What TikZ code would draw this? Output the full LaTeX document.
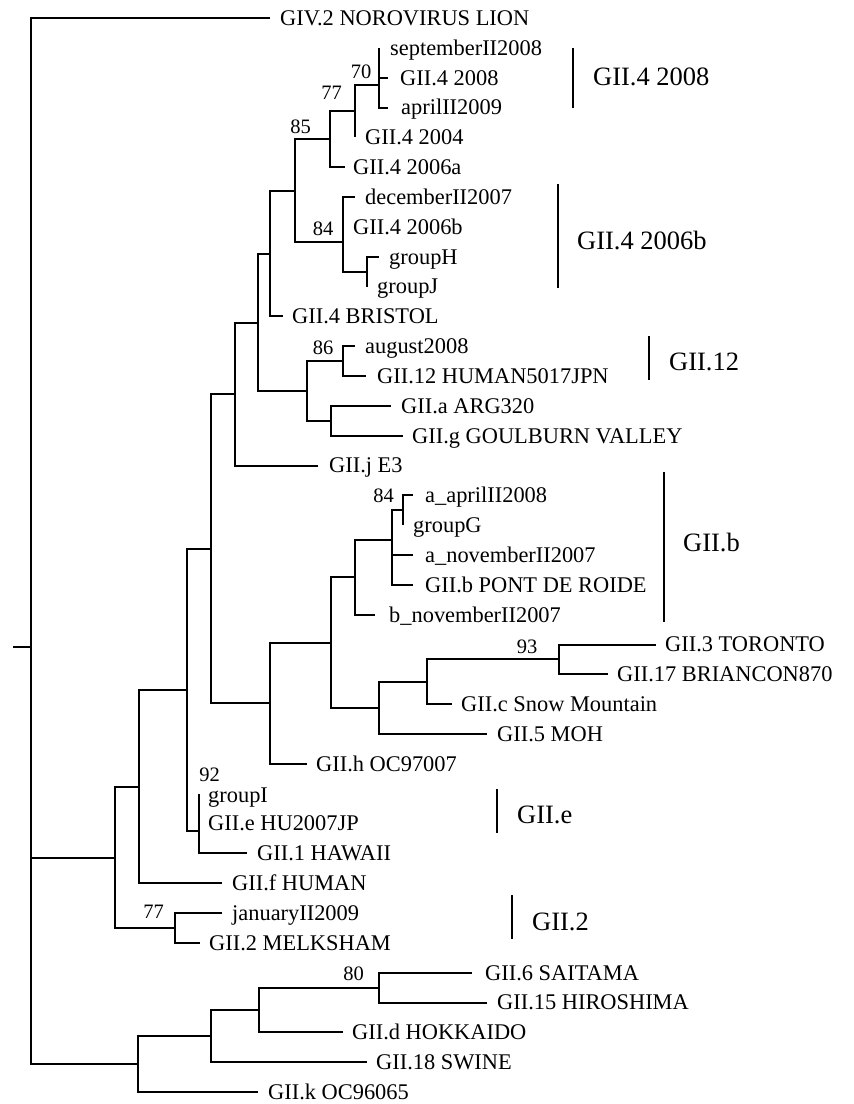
\documentclass[tikz,border=0pt]{standalone}
\usepackage{fontspec}
\setmainfont{Liberation Serif}
\begin{document}
\begin{tikzpicture}[x=1pt,y=-1pt,
  br/.style={line width=2pt},
  bar/.style={line width=2.4pt},
  leaf/.style={anchor=base west, inner sep=0pt, yshift=-7.4pt, font=\fontsize{22.4}{26}\selectfont},
  boot/.style={anchor=center, inner sep=0pt, font=\fontsize{20.5}{24}\selectfont},
  clade/.style={anchor=base west, inner sep=0pt, yshift=-8.8pt, font=\fontsize{26.5}{30}\selectfont}]
\useasboundingbox (0,0) rectangle (854,1104);
\fill[white] (0,0) rectangle (854,1104);

% ---------- internal nodes ----------
\coordinate (rs)   at (13,647);
\coordinate (root) at (31,647);
\coordinate (A)    at (115,857.5);
\coordinate (B)    at (139,787);
\coordinate (C)    at (187,690);
\coordinate (D)    at (211,548.5);
\coordinate (E)    at (235,394);
\coordinate (F)    at (258,322.5);
\coordinate (G)    at (270,253.5);
\coordinate (I)    at (295,190.5);
\coordinate (J)    at (330,139.2);
\coordinate (K)    at (355,111.2);
\coordinate (L)    at (379,85);
\coordinate (Na)   at (343,241.7);
\coordinate (HJ)   at (367,271.6);
\coordinate (H)    at (307,391);
\coordinate (N86)  at (343,361);
\coordinate (AG)   at (331,420.7);
\coordinate (M)    at (270,703.3);
\coordinate (N)    at (331,642.8);
\coordinate (P)    at (355,577.3);
\coordinate (Q)    at (392,540);
\coordinate (Nb)   at (403,510.2);
\coordinate (RR)   at (379,708);
\coordinate (S)    at (427,681.6);
\coordinate (N93)  at (559,659.4);
\coordinate (N92)  at (199,831);
\coordinate (N77)  at (175,928);
\coordinate (Z)    at (138,1064);
\coordinate (Z1)   at (211,1036);
\coordinate (Z2)   at (259,1010);
\coordinate (N80)  at (379,987.6);

% ---------- tips ----------
\coordinate (tLion) at (270,18);
\coordinate (tSep)  at (379,47.8);
\coordinate (t408)  at (388,77.7);
\coordinate (tApr)  at (388,107.5);
\coordinate (t404)  at (355,137.3);
\coordinate (t406a) at (345,167.2);
\coordinate (tDec)  at (355,197);
\coordinate (t406b) at (343,226.8);
\coordinate (tGH)   at (379,256.7);
\coordinate (tGJ)   at (367,286.5);
\coordinate (tBri)  at (283,316.3);
\coordinate (tAug)  at (355,346.2);
\coordinate (t12)   at (366,376);
\coordinate (tArg)  at (391,405.8);
\coordinate (tGou)  at (403,435.7);
\coordinate (tE3)   at (318,465.5);
\coordinate (tAap)  at (413,495.3);
\coordinate (tGG)   at (403,525.2);
\coordinate (tAnov) at (413,555);
\coordinate (tPont) at (413,584.8);
\coordinate (tBnov) at (375,614.7);
\coordinate (tTor)  at (656,644.5);
\coordinate (tBria) at (608,674.3);
\coordinate (tSnow) at (452,704.2);
\coordinate (tMoh)  at (487,734);
\coordinate (tOC97) at (307,763.8);
\coordinate (tGI)   at (199,793.7);
\coordinate (tGIIe) at (199,823.5);
\coordinate (tHaw)  at (247,853.3);
\coordinate (tHum)  at (222,883.2);
\coordinate (tJan)  at (222,913);
\coordinate (tMel)  at (200,942.8);
\coordinate (tSai)  at (472,972.7);
\coordinate (tHir)  at (487,1002.5);
\coordinate (tHok)  at (343,1032.3);
\coordinate (tSwi)  at (367,1062.2);
\coordinate (tOC96) at (258,1092);

% ---------- branches ----------
\draw[br] (rs) -- (root);
\draw[br] (root) |- (tLion);
\draw[br] (root) |- (A);
\draw[br] (root) |- (Z);
\draw[br] (A) |- (B);
\draw[br] (A) |- (N77);
\draw[br] (B) |- (C);
\draw[br] (B) |- (tHum);
\draw[br] (C) |- (D);
\draw[br] (C) |- (N92);
\draw[br] (D) |- (E);
\draw[br] (D) |- (M);
\draw[br] (E) |- (F);
\draw[br] (E) |- (tE3);
\draw[br] (F) |- (G);
\draw[br] (F) |- (H);
\draw[br] (G) |- (I);
\draw[br] (G) |- (tBri);
\draw[br] (I) |- (J);
\draw[br] (I) |- (Na);
\draw[br] (J) |- (K);
\draw[br] (J) |- (t406a);
\draw[br] (K) |- (L);
\draw[br] (K) |- (t404);
\draw[br] (L) |- (tSep);
\draw[br] (L) |- (t408);
\draw[br] (L) |- (tApr);
\draw[br] (Na) |- (tDec);
\draw[br] (Na) |- (t406b);
\draw[br] (Na) |- (HJ);
\draw[br] (HJ) |- (tGH);
\draw[br] (HJ) |- (tGJ);
\draw[br] (H) |- (N86);
\draw[br] (H) |- (AG);
\draw[br] (N86) |- (tAug);
\draw[br] (N86) |- (t12);
\draw[br] (AG) |- (tArg);
\draw[br] (AG) |- (tGou);
\draw[br] (M) |- (N);
\draw[br] (M) |- (tOC97);
\draw[br] (N) |- (P);
\draw[br] (N) |- (RR);
\draw[br] (P) |- (Q);
\draw[br] (P) |- (tBnov);
\draw[br] (Q) |- (Nb);
\draw[br] (Q) |- (tAnov);
\draw[br] (Q) |- (tPont);
\draw[br] (Nb) |- (tAap);
\draw[br] (Nb) |- (tGG);
\draw[br] (RR) |- (S);
\draw[br] (RR) |- (tMoh);
\draw[br] (S) |- (N93);
\draw[br] (S) |- (tSnow);
\draw[br] (N93) |- (tTor);
\draw[br] (N93) |- (tBria);
\draw[br] (N92) |- (tGI);
\draw[br] (N92) |- (tGIIe);
\draw[br] (N92) |- (tHaw);
\draw[br] (N77) |- (tJan);
\draw[br] (N77) |- (tMel);
\draw[br] (Z) |- (Z1);
\draw[br] (Z) |- (tOC96);
\draw[br] (Z1) |- (Z2);
\draw[br] (Z1) |- (tSwi);
\draw[br] (Z2) |- (N80);
\draw[br] (Z2) |- (tHok);
\draw[br] (N80) |- (tSai);
\draw[br] (N80) |- (tHir);

% ---------- leaf labels ----------
\node[leaf] (lLion) at (280,18) {GIV.2 NOROVIRUS LION};
\node[leaf] (lSep)  at (390,47.8) {septemberII2008};
\node[leaf] (l408)  at (400,77.7) {GII.4 2008};
\node[leaf] (lApr)  at (401,107.5) {aprilII2009};
\node[leaf] (l404)  at (365,137.3) {GII.4 2004};
\node[leaf] (l406a) at (353,167.2) {GII.4 2006a};
\node[leaf] (lDec)  at (365,197) {decemberII2007};
\node[leaf] (l406b) at (353,226.8) {GII.4 2006b};
\node[leaf] (lGH)   at (389,256.7) {groupH};
\node[leaf] (lGJ)   at (377,286.5) {groupJ};
\node[leaf] (lBri)  at (292,316.3) {GII.4 BRISTOL};
\node[leaf] (lAug)  at (365,346.2) {august2008};
\node[leaf] (l12)   at (377,376) {GII.12 HUMAN5017JPN};
\node[leaf] (lArg)  at (401,405.8) {GII.a ARG320};
\node[leaf] (lGou)  at (412,435.7) {GII.g GOULBURN VALLEY};
\node[leaf] (lE3)   at (329,465.5) {GII.j E3};
\node[leaf] (lAap)  at (425,495.3) {a\_aprilII2008};
\node[leaf] (lGG)   at (413,525.2) {groupG};
\node[leaf] (lAnov) at (425,555) {a\_novemberII2007};
\node[leaf] (lPont) at (425,584.8) {GII.b PONT DE ROIDE};
\node[leaf] (lBnov) at (389,614.7) {b\_novemberII2007};
\node[leaf] (lTor)  at (665,644.5) {GII.3 TORONTO};
\node[leaf] (lBria) at (617,674.3) {GII.17 BRIANCON870};
\node[leaf] (lSnow) at (461,704.2) {GII.c Snow Mountain};
\node[leaf] (lMoh)  at (497,734) {GII.5 MOH};
\node[leaf] (lOC97) at (316,763.8) {GII.h OC97007};
\node[leaf] (lGI)   at (208,795) {groupI};
\node[leaf] (lGIIe) at (208,823.5) {GII.e HU2007JP};
\node[leaf] (lHaw)  at (257,853.3) {GII.1 HAWAII};
\node[leaf] (lHum)  at (232,883.2) {GII.f HUMAN};
\node[leaf] (lJan)  at (232,913) {januaryII2009};
\node[leaf] (lMel)  at (209,942.8) {GII.2 MELKSHAM};
\node[leaf] (lSai)  at (485,972.7) {GII.6 SAITAMA};
\node[leaf] (lHir)  at (497,1002.5) {GII.15 HIROSHIMA};
\node[leaf] (lHok)  at (352,1032.3) {GII.d HOKKAIDO};
\node[leaf] (lSwi)  at (376,1062.2) {GII.18 SWINE};
\node[leaf] (lOC96) at (268,1092) {GII.k OC96065};

% ---------- bootstrap values ----------
\node[boot] (b70)  at (361,72) {70};
\node[boot] (b77)  at (331.5,92.7) {77};
\node[boot] (b85)  at (300.5,126.7) {85};
\node[boot] (b84a) at (323,228.3) {84};
\node[boot] (b86)  at (323,348) {86};
\node[boot] (b84b) at (383.7,496) {84};
\node[boot] (b93)  at (527,646.7) {93};
\node[boot] (b92)  at (209.5,774.5) {92};
\node[boot] (b77b) at (153.7,912) {77};
\node[boot] (b80)  at (353.7,973.3) {80};

% ---------- clade bars ----------
\coordinate (c1t) at (573,48);  \coordinate (c1b) at (573,108);
\coordinate (c2t) at (558,184); \coordinate (c2b) at (558,288);
\coordinate (c3t) at (649,336); \coordinate (c3b) at (649,380);
\coordinate (c4t) at (664,472); \coordinate (c4b) at (664,622);
\coordinate (c5t) at (497,789); \coordinate (c5b) at (497,833);
\coordinate (c6t) at (512,895); \coordinate (c6b) at (512,939);
\draw[bar] (c1t) -- (c1b);
\draw[bar] (c2t) -- (c2b);
\draw[bar] (c3t) -- (c3b);
\draw[bar] (c4t) -- (c4b);
\draw[bar] (c5t) -- (c5b);
\draw[bar] (c6t) -- (c6b);
\node[clade] (k1) at (593,77)  {GII.4 2008};
\node[clade] (k2) at (577,241) {GII.4 2006b};
\node[clade] (k3) at (669,362) {GII.12};
\node[clade] (k4) at (683,543) {GII.b};
\node[clade] (k5) at (517,815) {GII.e};
\node[clade] (k6) at (532,922) {GII.2};
\end{tikzpicture}
\end{document}
